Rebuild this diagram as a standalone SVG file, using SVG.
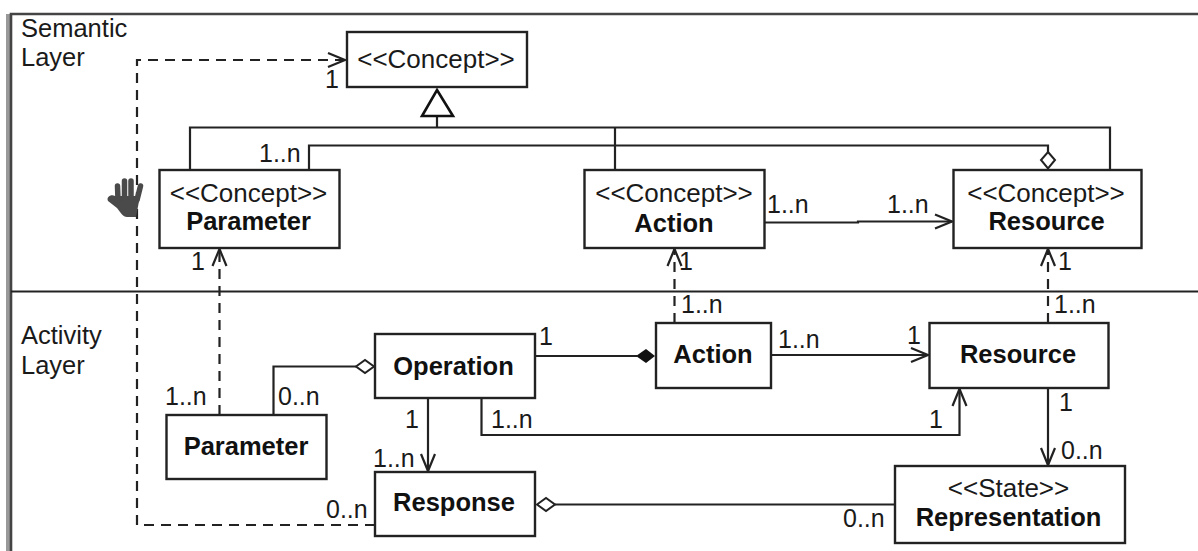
<svg xmlns="http://www.w3.org/2000/svg" width="1198" height="551" viewBox="0 0 1198 551">
<style>
text{font-family:"Liberation Sans",Arial,sans-serif;font-size:25px;fill:#1a1a1a}
.p{font-size:26px}
.l{font-size:25.500px}
.b{font-weight:bold;fill:#111;font-size:25.500px}
.m{text-anchor:middle}
.box{fill:#fff;stroke:#222;stroke-width:2.4}
.c{fill:none;stroke:#222;stroke-width:2.2}
.d{stroke-dasharray:10 7}
.f{stroke:#444;stroke-width:2.6;fill:none}
.a{fill:#fff;stroke:#222;stroke-width:2}
.finger{fill:none;stroke:#4a4a4a;stroke-width:5.500;stroke-linecap:round}
</style>
<defs>
<marker id="open" markerUnits="userSpaceOnUse" markerWidth="22" markerHeight="20" refX="19" refY="10" orient="auto"><path d="M2 3L19 10L2 17" fill="none" stroke="#222" stroke-width="2.2"/></marker>
</defs>
<rect width="1198" height="551" fill="#fff"/>
<g id="frame">
<rect x="6" y="14" width="4" height="537" fill="#999"/>
<path class="f" d="M11 551V14H1198"/>
<path class="c" d="M11 291.500H1198"/>
<text class="l" x="21" y="37">Semantic</text>
<text class="l" x="21" y="65.500">Layer</text>
<text class="l" x="21" y="344">Activity</text>
<text class="l" x="21" y="374">Layer</text>
</g>
<g id="connectors">
<path class="c d" d="M375 525H137V60H345" marker-end="url(#open)"/>
<path class="c" d="M437 116V127.500M190 170V127.500H1110V170M615 127.500V170"/>
<path class="c" d="M309 170V145.500H1048V152"/>
<path d="M437 90L453 116H422Z" fill="#fff" stroke="#111" stroke-width="2.600"/>
<path class="a" d="M1048 152L1055 160L1048 168.500L1041 160Z"/>
<path class="c" d="M765 222.500H858V221.500H952" marker-end="url(#open)"/>
<path class="c d" d="M219.500 415V249" marker-end="url(#open)"/>
<path class="c d" d="M674.500 323V249" marker-end="url(#open)"/>
<path class="c d" d="M1048 323V249" marker-end="url(#open)"/>
<path class="c" d="M273.500 415V366.500H356"/>
<path class="a" d="M356 366.500L365 360L374 366.500L365 373Z"/>
<path class="c" d="M535 356H637"/>
<path d="M636 356L646 349L655 356L646 363Z" fill="#111"/>
<path class="c" d="M771 355H928" marker-end="url(#open)"/>
<path class="c" d="M481.500 398V435H959.500V389" marker-end="url(#open)"/>
<path class="c" d="M428 398V471" marker-end="url(#open)"/>
<path class="c" d="M1048 388V465" marker-end="url(#open)"/>
<path class="c" d="M895 504.500H555"/>
<path class="a" d="M537 504.500L546 498L555 504.500L546 511Z"/>
</g>
<g id="labels">
<text x="325" y="88">1</text>
<text x="259" y="162">1..n</text>
<text x="767" y="213">1..n</text>
<text x="887" y="213">1..n</text>
<text x="191" y="270">1</text>
<text x="679" y="270">1</text>
<text x="1058" y="270">1</text>
<text x="681" y="313">1..n</text>
<text x="1054" y="313">1..n</text>
<text x="539" y="345">1</text>
<text x="778" y="348">1..n</text>
<text x="907" y="344">1</text>
<text x="165" y="405">1..n</text>
<text x="278" y="405">0..n</text>
<text x="405" y="428">1</text>
<text x="491" y="428">1..n</text>
<text x="929" y="428">1</text>
<text x="1059" y="411">1</text>
<text x="373" y="467">1..n</text>
<text x="1061" y="459">0..n</text>
<text x="326" y="518">0..n</text>
<text x="843" y="527">0..n</text>
</g>
<g id="concept"><rect class="box" x="347" y="32" width="180" height="55"/><text class="m p" x="436" y="68">&lt;&lt;Concept&gt;&gt;</text></g>
<g id="concept-parameter"><rect class="box" x="159.500" y="170" width="180" height="78"/><text class="m p" x="248.500" y="202">&lt;&lt;Concept&gt;&gt;</text><text class="m b" x="248.500" y="230">Parameter</text></g>
<g id="concept-action"><rect class="box" x="584.500" y="170" width="180" height="78"/><text class="m p" x="674" y="202">&lt;&lt;Concept&gt;&gt;</text><text class="m b" x="674" y="232">Action</text></g>
<g id="concept-resource"><rect class="box" x="953.500" y="170" width="188" height="78"/><text class="m p" x="1046" y="202">&lt;&lt;Concept&gt;&gt;</text><text class="m b" x="1046.500" y="230">Resource</text></g>
<g id="operation"><rect class="box" x="375" y="334" width="160" height="64"/><text class="m b" x="453.500" y="375">Operation</text></g>
<g id="action"><rect class="box" x="656" y="323" width="115" height="65"/><text class="m b" x="713" y="363">Action</text></g>
<g id="resource"><rect class="box" x="929.500" y="323" width="179" height="65"/><text class="m b" x="1018" y="363">Resource</text></g>
<g id="parameter"><rect class="box" x="166.500" y="415" width="160" height="64"/><text class="m b" x="246" y="455">Parameter</text></g>
<g id="response"><rect class="box" x="375" y="472" width="160" height="64"/><text class="m b" x="454" y="510.500">Response</text></g>
<g id="representation"><rect class="box" x="895" y="466" width="230" height="77"/><text class="m p" x="1008.500" y="497">&lt;&lt;State&gt;&gt;</text><text class="m b" x="1008.500" y="526">Representation</text></g>
<g id="hand"><path d="M115 196L118 196L136 196L140 196L136 217H127C123 217 120 212 117 208L108 201C106 197 111 194 115 196Z" fill="#4a4a4a"/><path class="finger" d="M118 200L117.500 186M124.500 198L124.500 181M131 198L131 181M137 200L140.500 186"/></g>
</svg>
